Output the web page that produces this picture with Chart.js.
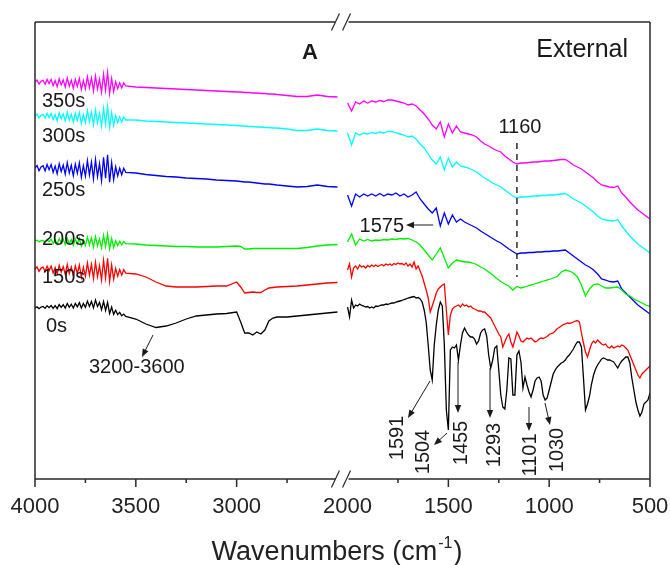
<!DOCTYPE html>
<html>
<head>
<meta charset="utf-8">
<script src="https://cdn.jsdelivr.net/npm/chart.js@4/dist/chart.umd.min.js"></script>
<style>
  html, body { margin: 0; padding: 0; background: #fff; }
  canvas { display: block; }
</style>
</head>
<body>
<canvas id="c" width="670" height="565"></canvas>
<script>
const FONT = '"Liberation Sans", Arial, sans-serif';

// wavenumber grids (cm-1)
const wnLeft = [4000,3990,3980,3970,3960,3950,3940,3930,3920,3910,3900,3890,3880,3870,3860,3850,3840,3830,3820,3810,
  3800,3790,3780,3770,3760,3750,3740,3730,3720,3710,3700,3690,3680,3670,3660,3650,3640,3630,3620,3610,
  3600,3590,3580,3570,3560,3550,3500,3450,3400,3350,3300,3250,3200,3150,3100,3050,3000,
  2980,2960,2940,2920,2900,2880,2860,2840,2820,2800,2750,2700,2650,2600,2550,2500];

const wnRight = [2000,1980,1960,1940,1920,1900,1880,1860,1840,1820,1800,1780,1760,1740,1720,1700,1680,1660,1640,1620,
  1600,1580,1560,1540,1520,1500,1480,1460,1440,1420,1400,1380,1360,1340,1320,1300,1280,1260,1240,1220,
  1200,1180,1160,1140,1120,1100,1080,1060,1040,1020,1000,980,960,940,920,900,880,860,840,820,
  800,780,760,740,720,700,680,660,640,620,600,580,560,540,520,500];

const wnFine = [2000,1990,1980,1970,1960,1950,1940,1930,1920,1910,1900,1890,1880,1870,1860,1850,1840,1830,1820,1810,
  1800,1790,1780,1770,1760,1750,1740,1730,1720,1710,1700,1690,1680,1670,1660,1650,1640,1630,1620,1610,
  1600,1590,1580,1570,1560,1550,1540,1530,1520,1510,1500,1490,1480,1470,1460,1450,1440,1430,1420,1410,
  1400,1390,1380,1370,1360,1350,1340,1330,1320,1310,1300,1290,1280,1270,1260,1250,1240,1230,1220,1210,
  1200,1190,1180,1170,1160,1150,1140,1130,1120,1110,1100,1090,1080,1070,1060,1050,1040,1030,1020,1010,
  1000,990,980,970,960,950,940,930,920,910,900,890,880,870,860,850,840,830,820,810,
  800,790,780,770,760,750,740,730,720,710,700,690,680,670,660,650,640,630,620,610,
  600,590,580,570,560,550,540,530,520,510,500];

// intensities (a.u., offset spectra)
const s350Left = [39.70,39.89,39.49,39.78,39.87,39.47,39.96,39.55,39.95,39.34,39.83,39.23,40.02,39.41,39.91,39.20,40.09,39.29,39.88,39.07,
  39.97,39.26,40.05,38.95,39.84,39.03,40.23,39.12,40.11,38.81,40.30,38.99,39.99,38.68,40.47,38.87,40.66,38.55,40.05,38.74,
  39.73,39.03,39.62,39.11,39.61,39.30,39.2,39.15,39.1,39.05,39.0,38.95,38.9,38.85,38.8,38.75,38.7,
  38.7,38.65,38.65,38.6,38.6,38.55,38.55,38.5,38.5,38.45,38.35,38.25,38.25,38.4,38.25,38.2];
const s300Left = [36.30,36.49,36.09,36.38,36.47,36.07,36.56,36.15,36.55,35.94,36.43,35.83,36.62,36.01,36.51,35.80,36.69,35.89,36.48,35.67,
  36.57,35.86,36.65,35.55,36.44,35.63,36.83,35.72,36.71,35.41,36.90,35.59,36.59,35.28,37.07,35.47,37.26,35.15,36.65,35.34,
  36.33,35.63,36.22,35.71,36.21,35.90,35.9,35.8,35.75,35.7,35.65,35.6,35.55,35.5,35.45,35.4,35.35,
  35.3,35.3,35.25,35.25,35.2,35.2,35.15,35.15,35.1,35.1,35.0,34.85,34.85,35.0,34.85,34.8];
const s250Left = [31.10,31.35,30.83,31.21,31.33,30.81,31.45,30.92,31.44,30.65,31.29,30.51,31.54,30.75,31.40,30.48,31.64,30.60,31.37,30.32,
  31.49,30.57,31.60,30.17,31.33,30.28,31.84,30.40,31.69,30.00,31.94,30.24,31.54,29.84,32.17,30.09,32.42,29.68,31.63,29.93,
  31.22,30.31,31.08,30.42,31.07,30.67,30.6,30.45,30.35,30.25,30.2,30.1,30.05,30.0,29.9,29.85,29.8,
  29.75,29.7,29.7,29.65,29.6,29.55,29.5,29.5,29.45,29.4,29.3,29.2,29.25,29.4,29.25,29.2];
const s200Left = [23.80,23.88,23.71,23.83,23.86,23.70,23.89,23.73,23.97,23.55,23.90,23.47,24.03,23.60,23.95,23.45,24.08,23.52,23.93,23.37,
  23.99,23.50,24.05,23.28,23.90,23.34,24.18,23.40,24.10,23.18,24.23,23.31,24.01,23.09,24.35,23.23,24.48,23.01,24.05,23.14,
  23.83,23.34,23.75,23.40,23.75,23.53,23.5,23.4,23.35,23.3,23.25,23.25,23.2,23.2,23.2,23.25,23.3,
  23.25,23.0,23.0,23.05,23.05,23.05,23.05,23.05,23.05,23.05,23.05,23.05,23.15,23.3,23.4,23.45];
const s150Left = [21.00,21.21,20.77,21.09,21.19,20.75,21.29,20.84,21.28,20.61,21.15,20.49,21.36,20.69,21.24,20.46,21.44,20.56,21.21,20.32,
  21.31,20.53,21.40,20.19,21.17,20.28,21.60,20.38,21.47,20.04,21.68,20.24,21.34,19.90,21.87,20.11,22.08,19.76,21.41,19.97,
  21.06,20.29,20.94,20.38,20.93,20.59,20.5,20.2,19.7,19.3,19.2,19.2,19.2,19.25,19.3,19.3,19.7,
  19.2,18.6,18.65,18.7,18.65,18.65,18.9,19.1,19.15,19.2,19.25,19.3,19.4,19.5,19.6,19.65];
const s0Left = [17.10,17.21,17.03,17.19,17.25,17.06,17.33,17.14,17.35,17.07,17.33,17.04,17.45,17.17,17.43,17.09,17.56,17.17,17.48,17.10,
  17.56,17.22,17.63,17.10,17.56,17.17,17.79,17.25,17.76,17.12,17.89,17.25,17.66,16.93,17.74,16.86,17.67,16.54,17.20,16.46,
  16.88,16.44,16.66,16.32,16.49,16.25,16.0,15.5,15.15,15.3,15.6,16.0,16.3,16.4,16.5,16.55,16.7,
  15.7,14.6,14.6,14.4,14.7,14.5,14.9,15.8,16.1,16.2,16.2,16.3,16.4,16.5,16.6,16.7];

const s350Right = [37.6,36.8,37.7,37.5,37.8,37.6,37.8,37.7,37.85,37.75,37.9,37.9,37.8,37.7,37.6,37.4,37.5,37.3,36.9,36.5,
  36.0,35.4,35.0,35.7,34.2,35.5,34.6,35.3,34.7,34.6,34.5,34.4,34.2,33.8,33.5,33.3,33.05,32.85,32.7,32.3,
  32.0,31.7,31.5,31.6,31.6,31.65,31.7,31.7,31.75,31.8,31.8,31.85,31.9,31.95,31.95,31.7,31.4,31.2,31.0,30.7,
  30.4,30.1,29.7,29.4,29.3,29.2,29.15,29.3,28.6,28.2,27.7,27.3,26.9,26.6,26.3,26.0];
const s300Right = [34.6,33.4,34.6,34.4,34.6,34.5,34.65,34.55,34.7,34.6,34.75,34.75,34.6,34.5,34.4,34.2,34.3,34.0,33.5,33.1,
  32.5,31.9,31.5,32.2,30.9,32.1,31.2,31.7,31.3,31.2,31.1,30.9,30.7,30.4,30.1,29.85,29.6,29.4,29.2,28.9,
  28.6,28.3,28.1,28.2,28.2,28.25,28.3,28.3,28.35,28.35,28.4,28.4,28.45,28.5,28.55,28.3,28.0,27.8,27.6,27.3,
  27.0,26.7,26.3,26.0,25.9,25.85,25.8,25.95,25.3,24.8,24.3,23.9,23.5,23.2,22.9,22.6];
const s250Right = [28.4,27.3,28.5,28.2,28.5,28.3,28.5,28.3,28.55,28.3,28.5,28.4,28.6,28.3,28.5,28.2,28.4,28.7,28.0,27.5,
  27.0,26.6,27.1,25.3,26.6,25.5,26.4,25.7,26.0,25.7,25.5,25.3,25.1,24.8,24.55,24.3,24.05,23.8,23.6,23.3,
  23.0,22.75,22.5,22.6,22.6,22.65,22.65,22.7,22.7,22.75,22.75,22.8,22.8,22.85,22.9,22.6,22.3,22.0,21.7,21.4,
  21.2,20.9,20.5,20.0,19.9,19.75,19.7,19.8,19.0,18.6,18.2,17.8,17.4,17.1,16.8,16.5];
const s200Right = [23.7,24.5,23.4,24.0,23.8,23.95,23.8,23.9,23.85,23.95,23.9,24.0,23.95,24.05,24.0,24.05,23.9,23.7,23.4,22.9,
  22.4,21.9,22.5,23.1,22.1,21.1,21.6,21.9,21.8,21.7,21.7,21.6,21.45,21.2,21.0,20.7,20.4,20.05,19.75,19.5,
  19.3,18.9,19.25,19.1,19.2,19.35,19.45,19.6,19.7,19.85,19.95,20.1,20.25,20.7,20.9,20.8,20.6,20.2,19.4,18.3,
  19.0,19.45,19.5,19.3,19.1,19.1,19.15,19.2,18.9,18.5,18.3,18.0,17.8,17.6,17.4,17.25];
const s150Right = [20.9,21.5,20.2,21.1,21.3,21.0,21.4,21.2,21.3,21.1,21.35,21.2,21.4,21.25,21.4,21.25,21.35,21.45,21.3,21.5,
  21.4,21.5,21.35,21.55,21.45,21.6,21.5,21.55,21.4,21.6,21.3,21.5,21.2,21.7,21.0,21.3,20.8,20.3,19.6,18.9,
  18.1,16.7,17.3,17.9,18.6,19.0,19.2,19.4,19.5,16.9,14.4,16.4,17.0,17.2,17.3,17.4,17.2,17.5,17.3,17.4,
  17.2,17.3,17.1,17.0,16.9,16.8,16.8,16.7,16.7,16.5,16.3,16.1,15.7,15.3,14.9,14.5,14.2,13.2,13.7,14.2,
  14.5,13.7,13.2,13.9,14.7,14.3,13.8,13.7,13.9,14.1,14.0,14.1,13.9,13.7,13.8,14.0,14.1,14.05,14.15,14.25,
  14.45,14.55,14.6,14.8,15.05,15.15,15.3,15.45,15.5,15.6,15.55,15.6,15.7,15.8,15.85,15.7,14.6,13.6,12.7,12.2,
  12.9,13.5,13.8,13.6,13.9,13.7,13.5,13.4,13.5,13.2,13.1,13.3,13.1,13.2,13.3,13.2,13.4,13.3,13.1,12.9,
  12.4,11.9,11.4,10.9,10.4,10.1,10.5,10.7,10.9,11.1,11.3];
const s0Right = [17.2,16.2,17.9,17.1,17.4,17.3,17.5,17.35,17.3,17.2,17.25,17.1,17.2,17.1,17.3,17.25,17.35,17.4,17.4,17.5,
  17.45,17.55,17.6,17.6,17.7,17.75,17.8,17.85,17.95,18.0,18.1,18.15,18.2,18.25,18.1,18.15,18.0,17.7,16.9,15.7,
  13.4,10.9,9.9,13.4,15.4,16.9,17.7,17.3,13.4,6.9,4.9,12.9,13.2,13.1,13.4,11.9,13.4,14.6,15.1,14.7,
  14.4,14.2,14.2,14.0,13.5,13.8,14.6,14.9,15.0,14.3,12.4,11.1,11.9,13.1,13.3,10.9,8.4,7.2,7.0,8.9,
  12.1,12.0,8.4,8.4,12.4,12.8,11.7,9.1,10.2,9.4,8.7,8.2,8.9,9.8,10.1,10.2,9.8,8.4,7.9,8.1,
  8.9,9.7,10.5,10.9,11.2,11.4,11.6,11.7,11.9,12.2,12.4,12.7,13.0,13.4,13.7,13.7,13.2,10.1,6.9,7.5,
  8.3,9.5,10.4,11.0,11.4,11.7,12.0,12.1,12.0,11.9,11.9,11.8,11.7,11.4,11.1,11.5,11.8,12.0,12.2,12.2,
  11.6,10.1,8.9,7.7,6.9,6.3,6.7,7.5,7.7,7.9,8.6];

const seriesNames = ['0s', '150s', '200s', '250s', '300s', '350s'];
const seriesColors = ['#000000', '#ff0000', '#00ee00', '#0000ff', '#00ffff', '#ff00ff'];

const majorTicks = [4000, 3500, 3000, 2000, 1500, 1000, 500];
const minorTicks = [3750, 3250, 2750, 1750, 1250, 750];
const tickLabels = ['4000', '3500', '3000', '2000', '1500', '1000', '500'];

// broken axis: 4000-2500 on the left, 2000-500 on the right, small gap between
const GAP = 50;
function toAxis(w) {
  return w >= 2250 ? 4000 - w : 1500 + GAP + (2000 - w);
}

function track(wl, vl, wr, vr) {
  const pts = wl.map((w, i) => ({ x: toAxis(w), y: vl[i] }));
  pts.push({ x: 1500 + GAP / 2, y: null });
  wr.forEach((w, i) => pts.push({ x: toAxis(w), y: vr[i] }));
  return pts;
}

const tracks = [
  track(wnLeft, s0Left, wnFine, s0Right),
  track(wnLeft, s150Left, wnFine, s150Right),
  track(wnLeft, s200Left, wnRight, s200Right),
  track(wnLeft, s250Left, wnRight, s250Right),
  track(wnLeft, s300Left, wnRight, s300Right),
  track(wnLeft, s350Left, wnRight, s350Right)
];

function arrow(ctx, x1, y1, x2, y2) {
  const ang = Math.atan2(y2 - y1, x2 - x1);
  const len = 8, half = 3.2;
  ctx.beginPath();
  ctx.moveTo(x1, y1);
  ctx.lineTo(x2 - Math.cos(ang) * len * 0.8, y2 - Math.sin(ang) * len * 0.8);
  ctx.stroke();
  ctx.beginPath();
  ctx.moveTo(x2, y2);
  ctx.lineTo(x2 - Math.cos(ang) * len + Math.sin(ang) * half, y2 - Math.sin(ang) * len - Math.cos(ang) * half);
  ctx.lineTo(x2 - Math.cos(ang) * len - Math.sin(ang) * half, y2 - Math.sin(ang) * len + Math.cos(ang) * half);
  ctx.closePath();
  ctx.fill();
}

const decor = {
  id: 'decor',
  afterDatasetsDraw(chart) {
    const { ctx, chartArea: a, scales: { x } } = chart;
    const px = w => x.getPixelForValue(toAxis(w));
    const leftEnd = x.getPixelForValue(1500);
    const rightStart = x.getPixelForValue(1500 + GAP);

    ctx.save();
    ctx.strokeStyle = '#2a2a2a';
    ctx.fillStyle = '#2a2a2a';
    ctx.lineWidth = 1.5;

    // frame with the break
    ctx.beginPath();
    ctx.moveTo(a.left, a.top); ctx.lineTo(a.left, a.bottom);
    ctx.moveTo(a.right, a.top); ctx.lineTo(a.right, a.bottom);
    [a.top, a.bottom].forEach(yy => {
      ctx.moveTo(a.left, yy); ctx.lineTo(leftEnd - 2, yy);
      ctx.moveTo(rightStart + 1, yy); ctx.lineTo(a.right, yy);
    });
    ctx.stroke();

    ctx.lineWidth = 1.2;
    ctx.beginPath();
    [a.top, a.bottom].forEach(yy => {
      [leftEnd - 2, rightStart - 1].forEach(cx => {
        ctx.moveTo(cx - 4, yy + 8.5);
        ctx.lineTo(cx + 4, yy - 8.5);
      });
    });
    ctx.stroke();

    // bottom ticks
    ctx.lineWidth = 1.5;
    ctx.beginPath();
    majorTicks.filter(w => w !== 2000).forEach(w => {
      ctx.moveTo(px(w), a.bottom); ctx.lineTo(px(w), a.bottom + 8);
    });
    minorTicks.forEach(w => {
      ctx.moveTo(px(w), a.bottom); ctx.lineTo(px(w), a.bottom + 4);
    });
    ctx.stroke();

    // axis title with superscript
    ctx.fillStyle = '#222';
    ctx.textBaseline = 'alphabetic';
    ctx.textAlign = 'left';
    const main = 'Wavenumbers (cm';
    ctx.font = '27px ' + FONT;
    const wMain = ctx.measureText(main).width;
    const wClose = ctx.measureText(')').width;
    ctx.font = '16px ' + FONT;
    const wSup = ctx.measureText('-1').width;
    let tx = 337 - (wMain + wSup + wClose + 2) / 2;
    ctx.font = '27px ' + FONT;
    ctx.fillText(main, tx, 560);
    ctx.font = '16px ' + FONT;
    ctx.fillText('-1', tx + wMain + 1, 548);
    ctx.font = '27px ' + FONT;
    ctx.fillText(')', tx + wMain + wSup + 2, 560);

    // series labels
    ctx.font = '20px ' + FONT;
    ctx.fillStyle = '#1a1a1a';
    [['350s', 42, 107], ['300s', 42, 142], ['250s', 42, 196], ['200s', 42, 245],
     ['150s', 42, 283], ['0s', 46, 332]].forEach(([t, lx, ly]) => ctx.fillText(t, lx, ly));

    // panel titles
    ctx.font = 'bold 22px ' + FONT;
    ctx.textAlign = 'center';
    ctx.fillText('A', 310, 59);
    ctx.font = '25px ' + FONT;
    ctx.textAlign = 'right';
    ctx.fillText('External', 628, 57);

    // 1160 marker
    ctx.font = '20px ' + FONT;
    ctx.textAlign = 'center';
    ctx.fillText('1160', px(1160) + 3, 133);
    ctx.setLineDash([6, 5]);
    ctx.lineWidth = 1.5;
    ctx.beginPath();
    ctx.moveTo(px(1160), 143); ctx.lineTo(px(1160), 277);
    ctx.stroke();
    ctx.setLineDash([]);

    ctx.lineWidth = 1;
    ctx.fillStyle = '#1a1a1a';
    ctx.strokeStyle = '#1a1a1a';

    // 1575
    ctx.textAlign = 'right';
    ctx.textBaseline = 'middle';
    ctx.fillText('1575', 404, 226);
    arrow(ctx, px(1575), 225, 406, 225);

    // 3200-3600
    ctx.textAlign = 'left';
    ctx.textBaseline = 'alphabetic';
    ctx.fillText('3200-3600', 89, 373);
    arrow(ctx, 153, 335, 142, 357);

    // band labels under the 0s spectrum
    const bands = [
      ['1591', 397, 438, 430, 381, 408, 418],
      ['1504', 423, 452, 447, 433, 434, 445],
      ['1455', 461, 443, 458, 362, 458, 413],
      ['1293', 494, 445, 490, 368, 490, 418],
      ['1101', 530, 455, 529, 407, 529, 431],
      ['1030', 557, 450, 545, 403, 550, 425]
    ];
    bands.forEach(([t, cx, cy, x1, y1, x2, y2]) => {
      arrow(ctx, x1, y1, x2, y2);
      ctx.save();
      ctx.translate(cx, cy);
      ctx.rotate(-Math.PI / 2);
      ctx.textAlign = 'center';
      ctx.textBaseline = 'middle';
      ctx.fillText(t, 0, 0);
      ctx.restore();
    });

    ctx.restore();
  }
};

new Chart(document.getElementById('c'), {
  type: 'line',
  data: {
    datasets: tracks.map((pts, i) => ({
      label: seriesNames[i],
      data: pts,
      borderColor: seriesColors[i],
      borderWidth: 1.3,
      pointRadius: 0,
      tension: 0,
      spanGaps: false
    }))
  },
  options: {
    responsive: false,
    animation: false,
    devicePixelRatio: 1,
    layout: { padding: { left: 35, right: 20, top: 22, bottom: 0 } },
    plugins: { legend: { display: false }, tooltip: { enabled: false } },
    scales: {
      x: {
        type: 'linear',
        min: 0,
        max: 1500 + GAP + 1500,
        grid: { display: false, drawTicks: false },
        border: { display: false },
        afterBuildTicks: s => { s.ticks = majorTicks.map(w => ({ value: toAxis(w) })); },
        afterFit: s => {
          s.height = 86;
          s.paddingLeft = 0;
          s.paddingRight = 0;
        },
        ticks: {
          autoSkip: false,
          maxRotation: 0,
          padding: 15,
          color: '#222',
          font: { family: FONT, size: 22 },
          callback: (v, i) => tickLabels[i]
        }
      },
      y: { display: false, min: 0, max: 45.7 }
    }
  },
  plugins: [decor]
});
</script>
</body>
</html>
